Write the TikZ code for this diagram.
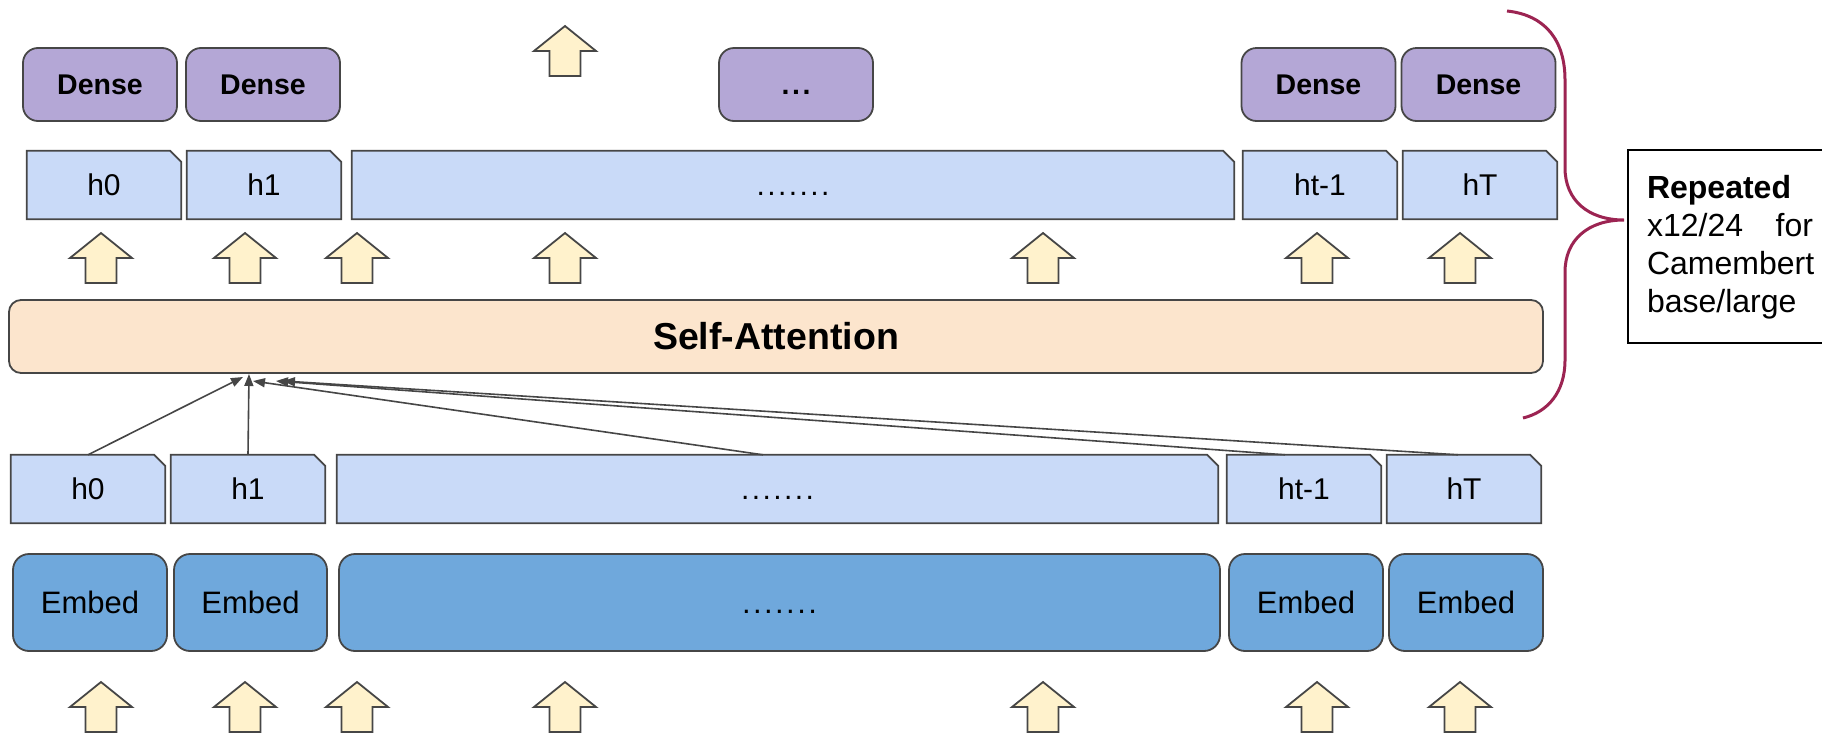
\documentclass[tikz,border=0pt]{standalone}
\usepackage{fontspec}
\setmainfont{Liberation Sans}
\usetikzlibrary{arrows.meta}
\definecolor{densec}{HTML}{B4A7D6}
\definecolor{hc}{HTML}{C9DAF8}
\definecolor{embc}{HTML}{6FA8DC}
\definecolor{attc}{HTML}{FCE5CD}
\definecolor{arrc}{HTML}{FFF2CC}
\definecolor{linec}{HTML}{464646}
\definecolor{bracec}{HTML}{9C2452}
\pgfdeclarelayer{bg}\pgfsetlayers{bg,main}
\newcommand\mydots{\vphantom{h0}.\kern2.4pt.\kern2.4pt.\kern2.4pt.\kern2.4pt.\kern2.4pt.\kern2.4pt.}
\newcommand\chamf[1]{\path[hshape] (#1.south west) -- (#1.north west) -- ([xshift=-11pt]#1.north east) -- ([yshift=-11pt]#1.north east) -- (#1.south east) -- cycle;}
\begin{document}
\begin{tikzpicture}[x=1pt,y=-1pt,
  dense/.style={draw=linec,line width=1.8pt,fill=densec,rounded corners=15pt,minimum width=154pt,minimum height=73pt,inner sep=0pt,font=\fontsize{28.5}{30}\selectfont\bfseries},
  hlab/.style={minimum height=68pt,inner sep=0pt,font=\fontsize{30}{32}\selectfont},
  hshape/.style={draw=linec,line width=1.8pt,fill=hc,line join=miter},
  embed/.style={draw=linec,line width=1.8pt,fill=embc,rounded corners=16pt,minimum height=97pt,inner sep=0pt,font=\fontsize{31}{33}\selectfont},
  attn/.style={draw=linec,line width=1.8pt,fill=attc,rounded corners=12pt,minimum width=1534pt,minimum height=73pt,inner sep=0pt,font=\fontsize{37.5}{40}\selectfont\bfseries},
  conn/.style={draw=linec,line width=1.6pt,-{Triangle[length=12pt,width=9pt]}},
  blockarrow/.style={draw=linec,line width=1.8pt,fill=arrc,line join=miter},
  uparr/.pic={\path[blockarrow] (0,0) -- (31,25) -- (15.5,25) -- (15.5,50) -- (-15.5,50) -- (-15.5,25) -- (-31,25) -- cycle;}
]
\useasboundingbox (0,0) rectangle (1822,734);

% Dense row
\node[dense] (d0) at (100,84.5) {Dense};
\node[dense] (d1) at (263,84.5) {Dense};
\node[dense] (dd) at (796,84.5) {\vphantom{D}.\kern2.6pt.\kern2.6pt.};
\node[dense] (d3) at (1318.5,84.5) {Dense};
\node[dense] (d4) at (1478.5,84.5) {Dense};

% top arrow
\pic at (565,26) {uparr};

% top h row
\node[hlab,minimum width=154pt] (h0t) at (104,185) {h0};
\node[hlab,minimum width=154pt] (h1t) at (264,185) {h1};
\node[hlab,minimum width=882pt] (hbt) at (793,185) {\mydots};
\node[hlab,minimum width=154pt] (htmt) at (1320,185) {ht-1};
\node[hlab,minimum width=154pt] (hTt) at (1480,185) {hT};

% arrows into top h row
\foreach \x in {101,245,357,565,1043,1317,1460} \pic at (\x,233) {uparr};

% self-attention
\node[attn] (sa) at (776,336.5) {Self-Attention};

% bottom h row
\node[hlab,minimum width=154pt] (h0b) at (88,489) {h0};
\node[hlab,minimum width=154pt] (h1b) at (248,489) {h1};
\node[hlab,minimum width=881pt] (hbb) at (777.5,489) {\mydots};
\node[hlab,minimum width=154pt] (htmb) at (1304,489) {ht-1};
\node[hlab,minimum width=154pt] (hTb) at (1464,489) {hT};

\begin{pgfonlayer}{bg}
\chamf{h0t}\chamf{h1t}\chamf{hbt}\chamf{htmt}\chamf{hTt}
\chamf{h0b}\chamf{h1b}\chamf{hbb}\chamf{htmb}\chamf{hTb}
\end{pgfonlayer}

% attention connectors
\coordinate (t0) at (243,377);
\coordinate (t1) at (249,374);
\coordinate (t2) at (253,381);
\coordinate (t3) at (276,381);
\coordinate (t4) at (283,381);
\draw[conn] (h0b.north) -- (t0);
\draw[conn] (h1b.north) -- (t1);
\draw[conn] ([xshift=-14.5pt]hbb.north) -- (t2);
\draw[conn] ([xshift=-19pt]htmb.north) -- (t3);
\draw[conn] ([xshift=-6pt]hTb.north) -- (t4);

% embed row
\node[embed,minimum width=154pt] (e0) at (90,602.5) {Embed};
\node[embed,minimum width=153pt] (e1) at (250.5,602.5) {Embed};
\node[embed,minimum width=881pt] (eb) at (779.5,602.5) {\mydots};
\node[embed,minimum width=154pt] (e3) at (1306,602.5) {Embed};
\node[embed,minimum width=154pt] (e4) at (1466,602.5) {Embed};

% bottom arrows
\foreach \x in {101,245,357,565,1043,1317,1460} \pic at (\x,682) {uparr};

% brace
\draw[bracec,line width=3pt] (1507,11) .. controls (1545,15) and (1565,40) .. (1565,80) -- (1565,168)
  .. controls (1565,200) and (1588,220) .. (1624,220)
  .. controls (1588,220) and (1565,240) .. (1565,272) -- (1565,360)
  .. controls (1565,392) and (1548,412) .. (1523,418);

% repeated box
\node[draw=black,line width=2pt,minimum width=197pt,minimum height=193pt,inner sep=0pt] (rep) at (1726.5,246.5) {};
\node[text width=166pt,align=left,inner sep=0pt,font=\fontsize{32}{38}\selectfont] (reptxt) at (1730,247) {\textbf{Repeated}\\ x12/24\hfill for\\ Camembert\\ base/large};
\end{tikzpicture}
\end{document}
